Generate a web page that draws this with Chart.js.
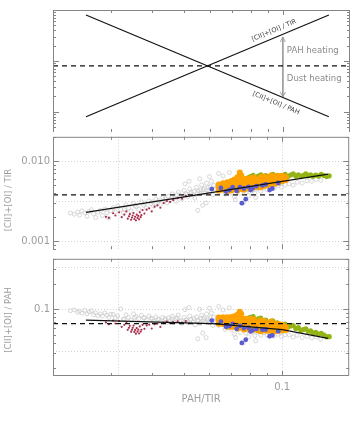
<!DOCTYPE html>
<html>
<head>
<meta charset="utf-8">
<script src="https://cdn.jsdelivr.net/npm/chart.js@4.4.0/dist/chart.umd.min.js"></script>
<style>
  body { margin: 0; background: #fff; width: 354px; height: 443px; position: relative; overflow: hidden; }
  canvas { position: absolute; left: 0; }
</style>
</head>
<body>
<canvas id="schema" width="354" height="132" style="top:0px"></canvas>
<canvas id="tirPanel" width="354" height="122" style="top:132px"></canvas>
<canvas id="pahPanel" width="354" height="189" style="top:254px"></canvas>
<script>
// x axis: PAH/TIR
const X_MIN = 0.02, X_MAX = 0.16;
const xLabelVals = [0.1];
const xLabelText = ['0.1'];
const xGridVals = [0.0316, 0.1];

// middle panel: ([CII]+[OI]) / TIR
const TIR_MIN = 0.0008, TIR_MAX = 0.02;
const tirLabelVals = [0.01, 0.001];
const tirLabelText = ['0.010', '0.001'];
const tirGridVals = [0.001, 0.00316, 0.01];
const tirLevel = 0.0038;

// bottom panel: ([CII]+[OI]) / PAH
const PAH_MIN = 0.016, PAH_MAX = 0.4;
const pahLabelVals = [0.1];
const pahLabelText = ['0.1'];
const pahGridVals = [0.0316, 0.1, 0.316];
const pahLevel = 0.0675;

// grey: all pixels
const grayX = [0.0226,0.0232,0.0238,0.0241,0.0245,0.0250,0.0254,0.0258,0.0262,0.0266,0.0270,0.0274,0.0279,0.0283,0.0288,0.0292,0.0296,0.0300,
  0.0305,0.0310,0.0315,0.0322,0.0328,0.0334,0.0340,0.0346,0.0352,0.0358,0.0365,0.0372,0.0378,0.0385,0.0392,0.0398,0.0405,0.0412,0.0418,0.0425,0.0432,0.0438,0.0445,
  0.0450,0.0456,0.0462,0.0468,0.0475,0.0482,0.0488,0.0495,0.0502,0.0508,0.0515,0.0522,0.0528,0.0535,0.0542,0.0548,0.0555,0.0562,0.0568,0.0575,0.0582,0.0588,0.0595,0.0600,0.0608,0.0614,
  0.0553,0.0572,0.0586,
  0.0505,0.0520,0.0560,0.0600,0.0640,0.0660,0.0690,
  0.0625,0.0640,0.0655,0.0670,0.0685,0.0700,0.0715,0.0730,0.0745,0.0760,0.0775,0.0790,0.0810,0.0825,0.0840,0.0860,0.0880,0.0900,0.0920,0.0945,0.0970,0.0995,0.1020,0.1050,0.1080,0.1110,0.1150,0.1190,0.1230,0.1270,0.1310,
  0.0720,0.0760,0.0830,
  0.0330,0.0355,0.0380,0.0402,0.0420,0.0440,0.0460,0.0478,0.0492,0.0510,0.0525,0.0538,0.0552,0.0565,0.0578,0.0592,0.0604,0.0618,0.0632,0.0648,
  0.0665,0.0695,0.0725,0.0755,0.0785,0.0815,0.0850,0.0890,0.0935,0.0985];
const grayTir = [0.00225,0.00218,0.00232,0.00212,0.00240,0.00226,0.00205,0.00236,0.00248,0.00221,0.00198,0.00230,0.00243,0.00210,0.00252,0.00227,0.00195,0.00240,
  0.00262,0.00232,0.00275,0.00250,0.00228,0.00285,0.00262,0.00240,0.00298,0.00270,0.00252,0.00310,0.00282,0.00262,0.00320,0.00295,0.00275,0.00335,0.00305,0.00288,0.00350,0.00318,0.00300,
  0.00365,0.00330,0.00390,0.00345,0.00315,0.00410,0.00372,0.00340,0.00430,0.00395,0.00360,0.00450,0.00410,0.00375,0.00345,0.00470,0.00425,0.00390,0.00505,0.00440,0.00400,0.00530,0.00470,0.00420,0.00560,0.00380,
  0.00243,0.00281,0.00300,
  0.00520,0.00560,0.00600,0.00640,0.00700,0.00650,0.00720,
  0.00450,0.00410,0.00480,0.00385,0.00440,0.00400,0.00360,0.00420,0.00395,0.00440,0.00405,0.00370,0.00430,0.00400,0.00450,0.00420,0.00460,0.00440,0.00475,0.00455,0.00490,0.00470,0.00505,0.00520,0.00500,0.00545,0.00530,0.00565,0.00560,0.00590,0.00575,
  0.00330,0.00300,0.00350,
  0.00250,0.00280,0.00300,0.00310,0.00320,0.00340,0.00355,0.00380,0.00360,0.00380,0.00395,0.00420,0.00400,0.00440,0.00460,0.00430,0.00480,0.00500,0.00470,0.00520,
  0.00430,0.00470,0.00450,0.00480,0.00440,0.00470,0.00490,0.00500,0.00510,0.00520];
const grayPah = [0.0960,0.0985,0.0920,0.0950,0.0900,0.0975,0.0880,0.0930,0.0960,0.0860,0.0905,0.0840,0.0880,0.0830,0.0905,0.0850,0.0800,0.0870,
  0.0870,0.0790,0.0830,0.1010,0.0760,0.0860,0.0800,0.0740,0.0880,0.0820,0.0770,0.0850,0.0790,0.0740,0.0830,0.0780,0.0720,0.0810,0.0760,0.0710,0.0800,0.0750,0.0700,
  0.0790,0.0730,0.0830,0.0700,0.0760,0.0850,0.0720,0.0680,0.0800,0.0740,0.0690,0.0830,0.0760,0.0700,0.0650,0.0810,0.0740,0.0680,0.0850,0.0760,0.0700,0.0880,0.0770,0.0700,0.0900,0.0640,
  0.0445,0.0520,0.0460,
  0.0990,0.1050,0.1000,0.1030,0.1080,0.0980,0.1040,
  0.0720,0.0640,0.0730,0.0575,0.0640,0.0570,0.0505,0.0575,0.0530,0.0580,0.0520,0.0470,0.0530,0.0485,0.0535,0.0490,0.0525,0.0490,0.0515,0.0480,0.0505,0.0470,0.0495,0.0495,0.0465,0.0490,0.0460,0.0475,0.0455,0.0465,0.0440,
  0.0460,0.0395,0.0420,
  0.0758,0.0789,0.0789,0.0771,0.0762,0.0773,0.0772,0.0795,0.0732,0.0745,0.0752,0.0781,0.0725,0.0779,0.0796,0.0726,0.0795,0.0809,0.0744,0.0802,
  0.0647,0.0676,0.0621,0.0636,0.0561,0.0577,0.0576,0.0562,0.0545,0.0528];

// dark red
const redX = [0.0290,0.0296,0.0305,0.0310,0.0318,0.0324,0.0330,0.0335,0.0338,0.0341,0.0343,0.0346,0.0348,0.0350,0.0352,0.0354,0.0356,0.0358,0.0360,0.0362,
  0.0364,0.0366,0.0368,0.0370,0.0372,0.0375,0.0380,0.0386,0.0393,0.0400,0.0408,0.0416,0.0425,0.0435,0.0445,0.0455,0.0465,0.0480,0.0495,0.0508];
const redTir = [0.00202,0.00196,0.00224,0.00210,0.00230,0.00200,0.00215,0.00236,0.00192,0.00205,0.00218,0.00186,0.00198,0.00210,0.00225,0.00190,0.00202,0.00183,0.00215,0.00196,
  0.00208,0.00188,0.00230,0.00200,0.00212,0.00245,0.00222,0.00248,0.00258,0.00236,0.00270,0.00280,0.00262,0.00300,0.00318,0.00310,0.00328,0.00345,0.00340,0.00368];
const redPah = [0.0697,0.0662,0.0734,0.0677,0.0723,0.0617,0.0652,0.0704,0.0568,0.0601,0.0636,0.0538,0.0569,0.0600,0.0639,0.0537,0.0567,0.0511,0.0597,0.0541,
  0.0571,0.0514,0.0625,0.0541,0.0570,0.0653,0.0584,0.0642,0.0656,0.0590,0.0662,0.0673,0.0616,0.0690,0.0715,0.0681,0.0705,0.0719,0.0687,0.0724];

// orange
const orangeX = [0.0640,0.0640,0.0640,0.0660,0.0660,0.0660,0.0680,0.0680,0.0680,0.0680,0.0700,0.0700,0.0700,0.0700,0.0715,0.0715,0.0715,0.0715,
  0.0730,0.0730,0.0730,0.0730,0.0730,0.0742,0.0742,0.0742,0.0750,0.0750,0.0750,0.0750,0.0765,0.0765,0.0765,0.0765,0.0780,0.0780,0.0780,0.0780,
  0.0800,0.0800,0.0800,0.0800,0.0820,0.0820,0.0820,0.0820,0.0840,0.0840,0.0840,0.0860,0.0860,0.0860,0.0860,0.0880,0.0880,0.0880,0.0880,
  0.0900,0.0900,0.0900,0.0925,0.0925,0.0925,0.0925,0.0950,0.0950,0.0950,0.0975,0.0975,0.0975,0.1000,0.1000,0.1000,0.1025,0.1025];
const orangeTir = [0.00430,0.00470,0.00510,0.00440,0.00480,0.00530,0.00420,0.00460,0.00500,0.00545,0.00430,0.00475,0.00520,0.00565,0.00445,0.00490,0.00540,0.00590,
  0.00430,0.00470,0.00520,0.00575,0.00630,0.00610,0.00670,0.00720,0.00450,0.00500,0.00550,0.00660,0.00440,0.00490,0.00540,0.00590,0.00460,0.00510,0.00560,0.00600,
  0.00450,0.00500,0.00550,0.00610,0.00470,0.00520,0.00575,0.00620,0.00480,0.00530,0.00590,0.00470,0.00520,0.00570,0.00630,0.00490,0.00545,0.00600,0.00640,
  0.00500,0.00560,0.00615,0.00510,0.00570,0.00630,0.00660,0.00520,0.00580,0.00640,0.00540,0.00600,0.00650,0.00560,0.00610,0.00655,0.00580,0.00630];
const orangePah = [0.0672,0.0734,0.0797,0.0667,0.0727,0.0803,0.0618,0.0676,0.0735,0.0801,0.0614,0.0679,0.0743,0.0807,0.0622,0.0685,0.0755,0.0825,
  0.0589,0.0644,0.0712,0.0788,0.0863,0.0822,0.0890,0.0935,0.0600,0.0667,0.0733,0.0880,0.0575,0.0641,0.0706,0.0771,0.0590,0.0654,0.0718,0.0769,
  0.0563,0.0625,0.0688,0.0763,0.0573,0.0634,0.0701,0.0756,0.0571,0.0631,0.0702,0.0547,0.0605,0.0663,0.0733,0.0557,0.0619,0.0682,0.0727,
  0.0556,0.0622,0.0683,0.0551,0.0616,0.0681,0.0714,0.0547,0.0611,0.0674,0.0554,0.0615,0.0667,0.0560,0.0610,0.0655,0.0566,0.0615];

// blue
const blueX = [0.0610,0.0650,0.0674,0.0690,0.0706,0.0726,0.0743,0.0753,0.0764,0.0774,0.0789,0.0801,0.0811,0.0834,0.0870,0.0890,0.0915,0.0933,0.0972];
const blueTir = [0.00447,0.00463,0.00417,0.00436,0.00472,0.00425,0.00472,0.00299,0.00455,0.00335,0.00476,0.00436,0.00455,0.00486,0.00497,0.00511,0.00436,0.00455,0.00533];
const bluePah = [0.0733,0.0712,0.0619,0.0632,0.0669,0.0585,0.0635,0.0397,0.0596,0.0433,0.0603,0.0544,0.0561,0.0583,0.0571,0.0574,0.0477,0.0488,0.0548];

// yellow-green
const greenX = [0.0775,0.0790,0.0800,0.0815,0.0830,0.0845,0.0860,0.0875,0.0890,0.0905,0.0920,0.0935,0.0950,0.0965,0.0980,0.1000,0.1020,0.1040,0.1060,0.1080,
  0.1100,0.1120,0.1140,0.1160,0.1180,0.1200,0.1220,0.1240,0.1265,0.1290,0.1315,0.1340,0.1365,0.1390,0.0820,0.0845,0.0870,0.0850];
const greenTir = [0.00600,0.00620,0.00640,0.00665,0.00620,0.00650,0.00675,0.00635,0.00660,0.00620,0.00655,0.00680,0.00640,0.00665,0.00625,0.00650,0.00680,0.00640,0.00670,0.00690,
  0.00650,0.00675,0.00640,0.00665,0.00690,0.00655,0.00675,0.00645,0.00670,0.00650,0.00680,0.00660,0.00640,0.00655,0.00500,0.00470,0.00490,0.00520];
const greenPah = [0.0774,0.0785,0.0800,0.0816,0.0747,0.0769,0.0785,0.0726,0.0742,0.0685,0.0712,0.0727,0.0674,0.0689,0.0638,0.0650,0.0667,0.0615,0.0632,0.0639,
  0.0591,0.0603,0.0561,0.0573,0.0585,0.0546,0.0553,0.0520,0.0530,0.0504,0.0517,0.0493,0.0469,0.0471,0.0610,0.0556,0.0563,0.0612];

// fitted relations
const fitX = [0.0252, 0.0614, 0.1, 0.138];
const fitTir = [0.0023, 0.00408, 0.00558, 0.00687];
const fitPah = [0.0744, 0.0673, 0.0572, 0.045];

// schematic panel
const SCHEMA_MIN = 0.4, SCHEMA_MAX = 100;
const schemaX = [0.0252, 0.138];
const schemaTir = [0.80, 79.7];
const schemaPah = [79.7, 0.80];
const schemaLevel = 7.98;
const arrowX = [0.1, 0.1];
const arrowY = [29.5, 1.95];
const heatingText = ['PAH heating', 'Dust heating'];
const heatingY = [15.8, 4.42];

const FONT = '"DejaVu Sans", sans-serif';
const pts = (xs, ys) => xs.map((x, i) => ({ x, y: ys[i] }));

// tick values of a log axis: 1..9 times each decade inside [min, max]
function logTicks(min, max) {
  const out = [];
  for (let e = Math.floor(Math.log10(min)); e <= Math.ceil(Math.log10(max)); e++) {
    for (let m = 1; m < 10; m++) {
      const v = +(m * Math.pow(10, e)).toPrecision(3);
      if (v >= min * 0.999 && v <= max * 1.001) out.push(v);
    }
  }
  return out;
}
const isMajor = v => Math.abs(Math.log10(v) - Math.round(Math.log10(v))) < 1e-6;

function framePlugin(cfg) {
  return {
    id: 'frame',
    beforeDatasetsDraw(chart) {
      const { ctx, chartArea: a, scales: { x, y } } = chart;
      ctx.save();
      ctx.strokeStyle = '#d2d2d2';
      ctx.lineWidth = 1;
      ctx.setLineDash([1, 2]);
      (cfg.xGrid || []).forEach(v => {
        const px = Math.round(x.getPixelForValue(v)) + 0.5;
        ctx.beginPath(); ctx.moveTo(px, a.top); ctx.lineTo(px, a.bottom); ctx.stroke();
      });
      (cfg.yGrid || []).forEach(v => {
        const py = Math.round(y.getPixelForValue(v)) + 0.5;
        ctx.beginPath(); ctx.moveTo(a.left, py); ctx.lineTo(a.right, py); ctx.stroke();
      });
      ctx.restore();
    },
    afterDraw(chart) {
      const { ctx, chartArea: a, scales: { x, y } } = chart;
      const l = a.left + 0.5, r = a.right - 0.5, t = a.top + 0.5, b = a.bottom - 0.5;
      ctx.save();
      ctx.strokeStyle = '#858585';
      ctx.lineWidth = 1;
      ctx.beginPath();
      ctx.moveTo(l, a.bottom); ctx.lineTo(l, t); ctx.lineTo(r, t); ctx.lineTo(r, a.bottom);
      if (cfg.bottomEdge) { ctx.moveTo(l, b); ctx.lineTo(r, b); }
      logTicks(X_MIN, X_MAX).forEach(v => {
        const px = Math.round(x.getPixelForValue(v)) + 0.5;
        const len = isMajor(v) ? 5 : 3;
        ctx.moveTo(px, a.bottom); ctx.lineTo(px, a.bottom - len);
        ctx.moveTo(px, a.top); ctx.lineTo(px, a.top + len);
      });
      logTicks(y.min, y.max).forEach(v => {
        const py = Math.round(y.getPixelForValue(v)) + 0.5;
        const len = isMajor(v) ? 6 : 3;
        ctx.moveTo(a.left, py); ctx.lineTo(a.left + len, py);
        ctx.moveTo(a.right, py); ctx.lineTo(a.right - len, py);
      });
      ctx.stroke();

      ctx.fillStyle = '#9c9c9c';
      ctx.font = '10px ' + FONT;
      ctx.textAlign = 'right';
      ctx.textBaseline = 'middle';
      (cfg.yLabelVals || []).forEach((v, i) => {
        ctx.fillText(cfg.yLabelText[i], a.left - 3, y.getPixelForValue(v));
      });
      if (cfg.yTitle) {
        ctx.save();
        ctx.translate(9, (a.top + a.bottom) / 2 + cfg.yTitleShift);
        ctx.rotate(-Math.PI / 2);
        ctx.textAlign = 'center';
        ctx.font = '8.5px ' + FONT;
        ctx.fillText(cfg.yTitle, 0, 0);
        ctx.restore();
      }
      if (cfg.xTitle) {
        ctx.textAlign = 'center';
        xLabelVals.forEach((v, i) => {
          ctx.fillText(xLabelText[i], x.getPixelForValue(v), a.bottom + 11);
        });
        ctx.fillText(cfg.xTitle, (a.left + a.right) / 2, a.bottom + 23);
      }
      ctx.restore();
    }
  };
}

// arrow heads and annotations of the schematic panel
const notesPlugin = {
  id: 'notes',
  afterDatasetsDraw(chart) {
    const { ctx, scales: { x, y } } = chart;
    const metaOf = label => chart.getDatasetMeta(chart.data.datasets.findIndex(d => d.label === label)).data;
    const arrow = metaOf('arrow');
    ctx.save();
    ctx.strokeStyle = '#999';
    ctx.lineWidth = 0.9;
    const head = (p, dir) => {
      ctx.beginPath();
      ctx.moveTo(p.x - 2.5, p.y + dir * 5);
      ctx.lineTo(p.x, p.y);
      ctx.lineTo(p.x + 2.5, p.y + dir * 5);
      ctx.stroke();
    };
    head(arrow[0], 1);
    head(arrow[1], -1);

    ctx.fillStyle = '#8a8a8a';
    ctx.font = '8.5px ' + FONT;
    ctx.textAlign = 'left';
    ctx.textBaseline = 'middle';
    heatingText.forEach((t, i) => ctx.fillText(t, x.getPixelForValue(arrowX[0]) + 4, y.getPixelForValue(heatingY[i])));

    const along = (label, text, at, shift) => {
      const [p0, p1] = metaOf(label);
      const ang = Math.atan2(p1.y - p0.y, p1.x - p0.x);
      const px = x.getPixelForValue(at);
      const py = p0.y + (px - p0.x) * Math.tan(ang) + shift;
      ctx.save();
      ctx.translate(px, py);
      ctx.rotate(ang);
      ctx.fillStyle = '#3c3c3c';
      ctx.font = '6.5px ' + FONT;
      ctx.textAlign = 'center';
      ctx.fillText(text, 0, 0);
      ctx.restore();
    };
    along('tirLine', '[CII]+[OI] / TIR', 0.094, -7.5);
    along('pahLine', '[CII]+[OI] / PAH', 0.0953, 8.5);
    ctx.restore();
  }
};

const lineSet = (label, data, dash) => ({
  label, data, showLine: true, pointRadius: 0, borderColor: '#111', borderWidth: dash ? 1.3 : 1.2,
  borderDash: dash ? [5, 4] : [], fill: false
});
const dotSet = (label, data, radius, fillColor, edgeColor, edge) => ({
  label, data, showLine: false, pointRadius: radius, pointBackgroundColor: fillColor,
  pointBorderColor: edgeColor, pointBorderWidth: edge
});

function panelOptions(yMin, yMax, padding) {
  return {
    responsive: false,
    animation: false,
    events: [],
    layout: { padding },
    scales: {
      x: { type: 'logarithmic', min: X_MIN, max: X_MAX, display: false },
      y: { type: 'logarithmic', min: yMin, max: yMax, display: false }
    },
    plugins: { legend: { display: false }, tooltip: { enabled: false } }
  };
}

new Chart(document.getElementById('schema'), {
  type: 'scatter',
  data: {
    datasets: [
      lineSet('tirLine', pts(schemaX, schemaTir)),
      lineSet('pahLine', pts(schemaX, schemaPah)),
      lineSet('level', pts([X_MIN, X_MAX], [schemaLevel, schemaLevel]), true),
      { label: 'arrow', data: pts(arrowX, arrowY), showLine: true, pointRadius: 0, borderColor: '#999', borderWidth: 0.9 }
    ]
  },
  options: panelOptions(SCHEMA_MIN, SCHEMA_MAX, { left: 53, right: 4, top: 10, bottom: 0 }),
  plugins: [framePlugin({ bottomEdge: false }), notesPlugin]
});

function ratioPanel(id, ys, fitY, level, yMin, yMax, padding, cfg) {
  return new Chart(document.getElementById(id), {
    type: 'scatter',
    data: {
      datasets: [
        lineSet('fit', pts(fitX, fitY)),
        lineSet('level', pts([X_MIN, X_MAX], [level, level]), true),
        dotSet('blue', pts(blueX, ys.blue), 2.4, '#5b5bd0', '#5b5bd0', 0),
        dotSet('orange', pts(orangeX, ys.orange), 3, '#ffa200', '#ffa200', 0),
        dotSet('green', pts(greenX, ys.green), 2.6, '#93b414', '#93b414', 0),
        dotSet('red', pts(redX, ys.red), 1.1, '#a8304c', '#a8304c', 0),
        dotSet('gray', pts(grayX, ys.gray), 2, 'rgba(255,255,255,0)', '#cdcdcd', 0.8)
      ]
    },
    options: panelOptions(yMin, yMax, padding),
    plugins: [framePlugin(cfg)]
  });
}

ratioPanel('tirPanel',
  { gray: grayTir, red: redTir, orange: orangeTir, blue: blueTir, green: greenTir },
  fitTir, tirLevel, TIR_MIN, TIR_MAX, { left: 53, right: 4, top: 0, bottom: 0 },
  { bottomEdge: false, xGrid: xGridVals, yGrid: tirGridVals, yLabelVals: tirLabelVals, yLabelText: tirLabelText,
    yTitle: '[CII]+[OI] / TIR', yTitleShift: 7 });

ratioPanel('pahPanel',
  { gray: grayPah, red: redPah, orange: orangePah, blue: bluePah, green: greenPah },
  fitPah, pahLevel, PAH_MIN, PAH_MAX, { left: 53, right: 4, top: 0, bottom: 67 },
  { bottomEdge: true, xGrid: xGridVals, yGrid: pahGridVals, yLabelVals: pahLabelVals, yLabelText: pahLabelText,
    yTitle: '[CII]+[OI] / PAH', yTitleShift: 2.5, xTitle: 'PAH/TIR' });
</script>
</body>
</html>
